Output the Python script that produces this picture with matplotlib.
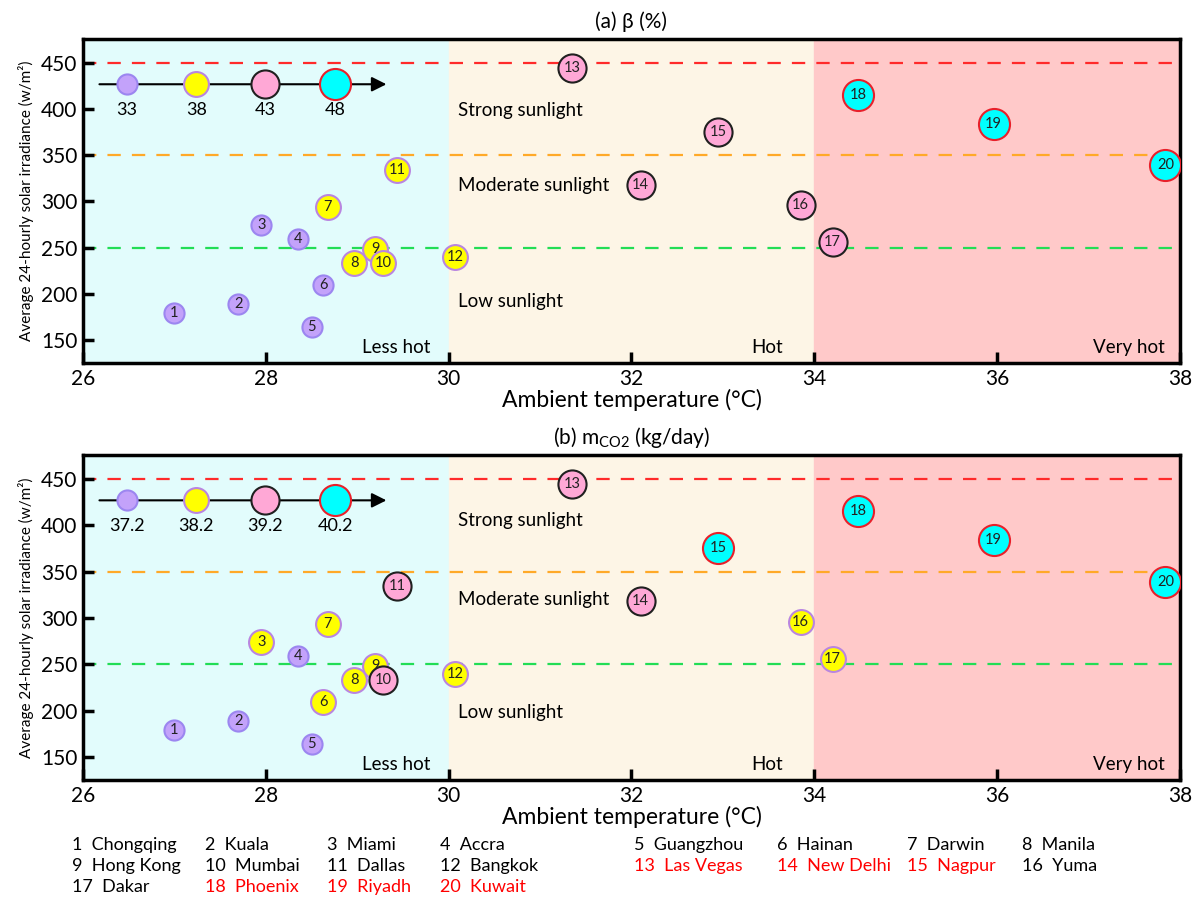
import matplotlib
matplotlib.use('Agg')
import matplotlib.pyplot as plt

plt.rcParams['font.family'] = ['Lato', 'DejaVu Sans']
plt.rcParams['mathtext.fontset'] = 'custom'
plt.rcParams['mathtext.rm'] = 'Lato'

# city data (same positions in both panels)
city_ids = list(range(1, 21))
temperature = [27.0, 27.7, 27.95, 28.35, 28.5, 28.63, 28.68, 28.97, 29.2, 29.28,
               29.44, 30.07, 31.35, 32.1, 32.95, 33.85, 34.2, 34.48, 35.96, 37.84]
irradiance = [179, 189, 274, 259, 164, 209, 294, 233, 248, 233,
              334, 240, 445, 318, 375, 296, 256, 415, 384, 339]

# size / colour class of each city (0..3) for each panel
beta_class = [0, 0, 0, 0, 0, 0, 1, 1, 1, 1, 1, 1, 2, 2, 2, 2, 2, 3, 3, 3]
mco2_class = [0, 0, 1, 0, 0, 1, 1, 1, 1, 2, 2, 1, 2, 2, 3, 1, 1, 3, 3, 3]

beta_legend = ['33', '38', '43', '48']
mco2_legend = ['37.2', '38.2', '39.2', '40.2']

city_names = ['Chongqing', 'Kuala', 'Miami', 'Accra', 'Guangzhou', 'Hainan', 'Darwin',
              'Manila', 'Hong Kong', 'Mumbai', 'Dallas', 'Bangkok', 'Las Vegas',
              'New Delhi', 'Nagpur', 'Yuma', 'Dakar', 'Phoenix', 'Riyadh', 'Kuwait']
red_cities = [13, 14, 15, 18, 19, 20]

# styles per class
face_colors = ['#C3A2FA', '#FFFF00', '#FFA8D6', '#00FFFF']
edge_colors = ['#9C86F0', '#B985E0', '#202020', '#E8202A']
marker_sizes = [210, 320, 410, 500]

fig = plt.figure(figsize=(11.97, 8.97), dpi=100)


def draw_panel(ax, classes, legend_labels, title, sun_y):
    ax.set_xlim(26, 38)
    ax.set_ylim(125, 476)
    # temperature zones
    ax.axvspan(26, 30, color='#E2FCFC', zorder=0)
    ax.axvspan(30, 34, color='#FDF5E6', zorder=0)
    ax.axvspan(34, 38, color='#FFC9C9', zorder=0)
    # sunlight thresholds
    for yv, c in [(450, '#FF2A2A'), (350, '#FFA928'), (250, '#22DD55')]:
        ax.axhline(yv, color=c, linestyle=(0, (6, 5)), linewidth=1.6, zorder=1)

    for i in range(len(city_ids)):
        k = classes[i]
        ax.scatter(temperature[i], irradiance[i], s=marker_sizes[k], c=face_colors[k],
                   edgecolors=edge_colors[k], linewidths=1.5, zorder=3)
        ax.text(temperature[i], irradiance[i], str(city_ids[i]), ha='center', va='center',
                fontsize=10.5, color='#222222', zorder=4)

    # size legend with arrow
    ax.annotate('', xy=(29.35, 427), xytext=(26.15, 427),
                arrowprops=dict(arrowstyle='-|>', color='black', lw=1.5, mutation_scale=22),
                zorder=2)
    leg_x = [26.48, 27.24, 27.99, 28.76]
    for k in range(4):
        ax.scatter(leg_x[k], 427, s=marker_sizes[k], c=face_colors[k],
                   edgecolors=edge_colors[k], linewidths=1.5, zorder=3)
        ax.text(leg_x[k], 399, legend_labels[k], ha='center', va='center', fontsize=13)

    ax.text(30.1, sun_y[0], 'Strong sunlight', fontsize=13.5, va='center')
    ax.text(30.1, sun_y[1], 'Moderate sunlight', fontsize=13.5, va='center')
    ax.text(30.1, sun_y[2], 'Low sunlight', fontsize=13.5, va='center')
    ax.text(29.8, 142, 'Less hot', fontsize=13.5, ha='right', va='center')
    ax.text(33.66, 142, 'Hot', fontsize=13.5, ha='right', va='center')
    ax.text(37.83, 142, 'Very hot', fontsize=13.5, ha='right', va='center')

    ax.set_xticks([26, 28, 30, 32, 34, 36, 38])
    ax.set_yticks([150, 200, 250, 300, 350, 400, 450])
    ax.tick_params(direction='in', length=8, width=2.5, labelsize=15, pad=4)
    for sp in ax.spines.values():
        sp.set_linewidth(2.5)
    ax.set_xlabel('Ambient temperature (°C)', fontsize=16.5, labelpad=0)
    ax.set_ylabel('Average 24-hourly solar irradiance (w/m²)', fontsize=11, labelpad=5)
    ax.set_title(title, fontsize=15, pad=8)


ax1 = fig.add_axes([0.0693, 0.5953, 0.9165, 0.3612])
draw_panel(ax1, beta_class, beta_legend, '(a) β (%)', [399, 317, 192])

ax2 = fig.add_axes([0.0693, 0.1304, 0.9165, 0.3624])
draw_panel(ax2, mco2_class, mco2_legend, r'(b) m$_{\mathrm{CO2}}$ (kg/day)', [405, 320, 198])

# city key at the bottom
col_x = [72, 205, 327, 440, 634, 777, 907, 1022]
row_y = [845, 866, 887]
for i in range(len(city_ids)):
    row = i // 8
    col = i % 8
    color = 'red' if city_ids[i] in red_cities else 'black'
    fig.text(col_x[col] / 1197, 1 - row_y[row] / 897, f'{city_ids[i]}  {city_names[i]}',
             fontsize=13, color=color, va='center', ha='left')

fig.savefig('out.png', dpi=100)
